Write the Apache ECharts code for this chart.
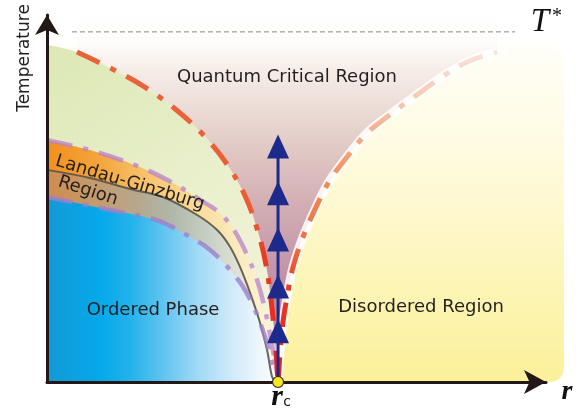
<!DOCTYPE html>
<html>
<head>
<meta charset="utf-8">
<script src="https://cdn.jsdelivr.net/npm/echarts@6/dist/echarts.min.js"></script>
<style>
  html, body { margin: 0; padding: 0; background: #ffffff; }
  #chart { width: 584px; height: 415px; }
</style>
</head>
<body>
<div id="chart"></div>
<script>
// Quantum critical point on the r axis
const rc = 46.3;
// Extent of the shaded phase region and the T* crossover level
const regionTop = 91.8;
const regionRight = 103.6;
const tStar = 95.4;
const tStarSpan = [5.0, 93.8];

// Left and right crossover lines bounding the quantum critical fan
const qcLeft = [[6.0, 89.9], [12.6, 85.6], [19.2, 80.7], [25.7, 74.4], [31.7, 66.8], [36.3, 58.9],
  [39.9, 50.1], [42.3, 40.9], [43.9, 31.9], [44.9, 22.3], [45.7, 11.4], [rc, 0]];
const qcRight = [[rc, 0], [47.1, 14.2], [48.1, 23.2], [49.3, 31.3], [51.3, 39.5], [54.1, 48.2],
  [56.7, 55.0], [60.1, 61.3], [64.1, 67.8], [68.7, 72.8], [74.1, 78.2], [78.8, 82.8], [84.2, 87.2], [90.2, 89.9]];

// Landau-Ginzburg fluctuation band: outer edge, transition line, ordered-phase edge
const lgOuter = [[0, 65.9], [8.6, 63.2], [18.6, 58.6], [25.3, 54.2], [30.7, 49.6], [34.7, 46.0],
  [37.7, 40.9], [40.1, 34.6], [42.1, 27.8], [43.7, 19.6], [44.9, 11.4], [45.7, 5.4], [rc, 0]];
const lgMid = [[0, 57.8], [8.6, 55.6], [16.6, 52.6], [23.2, 50.4], [30.1, 45.5], [34.1, 41.4],
  [36.7, 36.8], [38.7, 31.3], [40.7, 24.3], [42.7, 16.1], [44.1, 8.7], [45.1, 1.4], [45.8, 0]];
const lgInner = [[0, 50.4], [12.6, 46.9], [22.0, 44.1], [28.7, 39.5], [32.7, 36.0], [36.3, 31.1],
  [39.3, 25.9], [41.7, 19.6], [43.7, 12.3], [44.9, 6.5], [rc, 0]];

// RG flow arrows along r = rc
const flowMarks = [64.2, 51.4, 38.8, 26.0, 13.8];
const flowTop = 63.2;

const grad = (x0, y0, x1, y1, stops) =>
  new echarts.graphic.LinearGradient(x0, y0, x1, y1, stops.map(([offset, color]) => ({ offset, color })));

function areaSeries(data, fill, z, origin) {
  const area = { color: fill, opacity: 1 };
  if (origin) area.origin = origin;
  return {
    type: 'line', data, smooth: 0.35, symbol: 'none', silent: true, z,
    lineStyle: { width: 0, opacity: 0 },
    areaStyle: area
  };
}

function strokeSeries(data, color, width, dash, z, smooth) {
  return {
    type: 'line', data, smooth: smooth === false ? false : 0.35, symbol: 'none', silent: true, z,
    lineStyle: { color, width, type: dash, cap: 'butt' }
  };
}

const chart = echarts.init(document.getElementById('chart'), null, { renderer: 'canvas' });

const textColor = '#231f20';
const sans = '"DejaVu Sans", sans-serif';
const serif = '"Liberation Serif", serif';

chart.setOption({
  animation: false,
  backgroundColor: '#ffffff',
  grid: { left: 47, right: 38, top: 15, bottom: 33 },
  xAxis: {
    type: 'value', min: 0, max: 100, z: 4,
    axisLine: { show: true, lineStyle: { color: '#231815', width: 3 }, symbol: ['none', 'arrow'], symbolSize: [18, 22] },
    axisTick: { show: false }, axisLabel: { show: false }, splitLine: { show: false }
  },
  yAxis: {
    type: 'value', min: 0, max: 100, z: 4,
    axisLine: { show: true, lineStyle: { color: '#231815', width: 3 }, symbol: ['none', 'arrow'], symbolSize: [18, 20] },
    axisTick: { show: false }, axisLabel: { show: false }, splitLine: { show: false }
  },
  series: [
    // pale background of the phase diagram (disordered side turns yellow toward low T)
    {
      type: 'custom', silent: true, z: 1, data: [[0, 0]],
      renderItem(params, api) {
        const p0 = api.coord([0, regionTop]);
        const p1 = api.coord([regionRight, 0]);
        return {
          type: 'rect',
          shape: { x: p0[0], y: p0[1], width: p1[0] - p0[0], height: p1[1] - p0[1], r: [0, 16, 14, 0] },
          style: { fill: grad(0, 0, 0, 1, [[0, '#fffef8'], [0.3, '#fffbe2'], [0.65, '#fdf6bc'], [1, '#fcf09a']]) }
        };
      }
    },
    // greenish classical region left of the fan
    areaSeries([[0, regionTop]].concat(qcLeft),
      grad(0, 0, 1, 1, [[0, '#dce8b4'], [0.45, '#e9efcb'], [1, '#f5f4de']]), 2),
    // quantum critical fan
    areaSeries(qcLeft.concat(qcRight.slice(1)),
      grad(0, 0, 0, 1, [[0, '#ffffff'], [0.08, '#fdfbf9'], [0.15, '#f6ede8'], [0.23, '#eee0da'],
        [0.37, '#e0c8c4'], [0.5, '#d4b0b4'], [0.64, '#c89cad'], [0.78, '#bd88a2'], [0.91, '#b9809e'], [1, '#bc88a4']]),
      2, 'end'),
    // Landau-Ginzburg band
    areaSeries(lgOuter,
      grad(0, 0, 1, 0, [[0, '#f2901e'], [0.22, '#f4a43a'], [0.4, '#f7bf66'], [0.58, '#f9d58e'], [0.79, '#fae8b8'], [1, '#fdf6dc']]), 2),
    areaSeries(lgMid,
      grad(0, 0, 1, 0, [[0, '#cf8c4e'], [0.2, '#c59a6c'], [0.4, '#b7a88e'], [0.55, '#b0b8aa'], [0.7, '#c6cfc4'], [0.85, '#e2e4d6'], [1, '#f4f2e6']]), 2),
    // ordered phase
    areaSeries(lgInner,
      grad(0, 0, 1, 0, [[0, '#1598d6'], [0.23, '#05a9ea'], [0.36, '#22b2ec'], [0.53, '#6cc8f2'], [0.66, '#a3daf6'], [0.79, '#cde9f9'], [0.92, '#eef7fd'], [1, '#f8fcff']]), 2),
    // boundary lines
    strokeSeries(lgMid, 'rgba(88,84,72,0.9)', 2, 'solid', 3),
    strokeSeries(lgOuter, 'rgba(186,128,204,0.75)', 4.5, [26, 11, 5, 11], 3),
    strokeSeries(lgInner, 'rgba(158,128,204,0.8)', 4.5, [26, 11, 5, 11], 3),
    strokeSeries(qcRight, 'rgba(255,255,255,0.85)', 9, 'solid', 3),
    strokeSeries(qcLeft,
      grad(0, 0, 0, 1, [[0, '#e9643a'], [0.5, '#ea5e36'], [0.6, '#e83e24'], [1, '#e61e1e']]),
      5, [25, 12, 6, 12], 3),
    strokeSeries(qcRight,
      grad(0, 0, 0, 1, [[0, 'rgba(246,206,188,0.55)'], [0.2, '#f5bc9c'], [0.4, '#f08c58'], [0.6, '#ec6a3a'], [0.72, '#e83a22'], [1, '#e61e1e']]),
      5, [25, 12, 6, 12], 3),
    // T* crossover level
    strokeSeries([[tStarSpan[0], tStar], [tStarSpan[1], tStar]], '#8a8a8a', 1, [5, 3], 3, false),
    // RG flow line and arrows
    strokeSeries([[rc, 0], [rc, flowTop]], '#1c2a8c', 3, 'solid', 5, false),
    {
      type: 'scatter', silent: true, z: 5, symbol: 'triangle', symbolSize: [22, 24],
      itemStyle: { color: '#1c2a8c', opacity: 1 },
      data: flowMarks.map(t => [rc, t])
    },
    {
      type: 'scatter', silent: true, z: 6, symbol: 'circle', symbolSize: 11,
      itemStyle: { color: '#f6e61e', borderColor: '#2a2a2a', borderWidth: 1.2, opacity: 1 },
      data: [[rc, 0]]
    }
  ],
  graphic: [
    { type: 'text', x: 25, y: 58, rotation: Math.PI / 2, z: 10,
      style: { text: 'Temperature', font: '17px ' + sans, fill: textColor, align: 'center', verticalAlign: 'middle' } },
    { type: 'text', x: 287, y: 77, z: 10,
      style: { text: 'Quantum Critical Region', font: '18px ' + sans, fill: textColor, align: 'center', verticalAlign: 'middle' } },
    { type: 'text', x: 153, y: 310, z: 10,
      style: { text: 'Ordered Phase', font: '18px ' + sans, fill: textColor, align: 'center', verticalAlign: 'middle' } },
    { type: 'text', x: 421, y: 307, z: 10,
      style: { text: 'Disordered Region', font: '18px ' + sans, fill: textColor, align: 'center', verticalAlign: 'middle' } },
    { type: 'text', x: 130, y: 183, rotation: -0.29, z: 10,
      style: { text: 'Landau-Ginzburg', font: '18px ' + sans, fill: textColor, align: 'center', verticalAlign: 'middle' } },
    { type: 'text', x: 88, y: 191, rotation: -0.31, z: 10,
      style: { text: 'Region', font: '18px ' + sans, fill: textColor, align: 'center', verticalAlign: 'middle' } },
    { type: 'text', x: 540, y: 22, z: 10,
      style: { text: 'T', font: 'italic 33px ' + serif, fill: '#111111', align: 'center', verticalAlign: 'middle' } },
    { type: 'text', x: 557, y: 17, z: 10,
      style: { text: '*', font: '20px ' + serif, fill: '#111111', align: 'center', verticalAlign: 'middle' } },
    { type: 'text', x: 277, y: 397, z: 10,
      style: { text: 'r', font: 'italic bold 30px ' + serif, fill: '#111111', align: 'center', verticalAlign: 'middle' } },
    { type: 'text', x: 287, y: 402, z: 10,
      style: { text: 'c', font: '14px ' + sans, fill: '#111111', align: 'center', verticalAlign: 'middle' } },
    { type: 'text', x: 567, y: 392, z: 10,
      style: { text: 'r', font: 'italic bold 28px ' + serif, fill: '#111111', align: 'center', verticalAlign: 'middle' } }
  ]
});
</script>
</body>
</html>
